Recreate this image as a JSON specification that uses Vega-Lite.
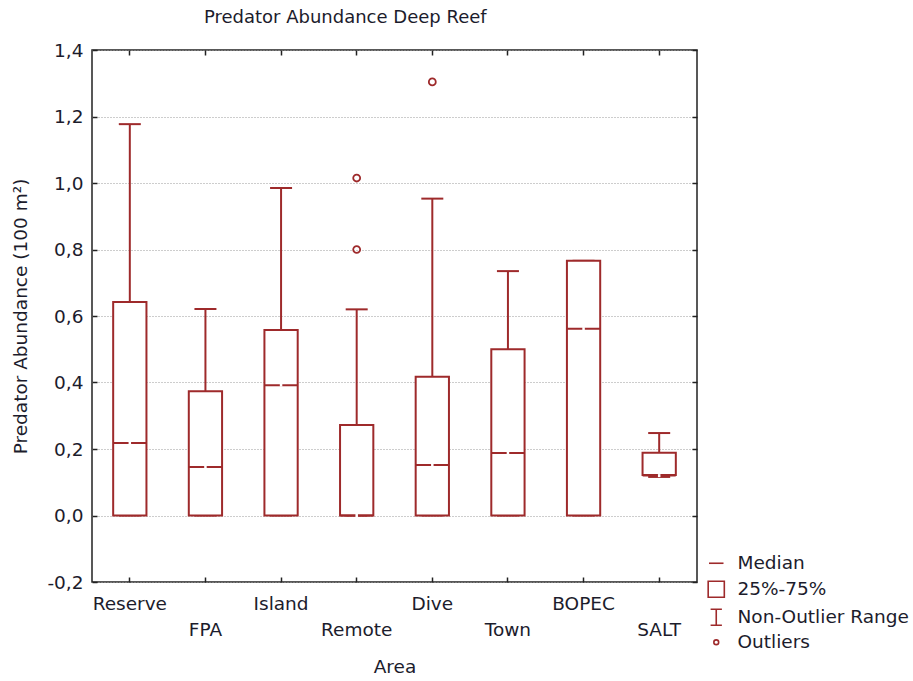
{
  "$schema": "https://vega.github.io/schema/vega-lite/v6.json",
  "width": 605,
  "height": 532,
  "autosize": {"type": "none"},
  "padding": {"left": 92, "top": 50, "right": 216, "bottom": 99},
  "background": "white",
  "config": {
    "font": "DejaVu Sans",
    "view": {"stroke": "#222222", "strokeWidth": 1.5},
    "axis": {
      "labelFont": "DejaVu Sans",
      "titleFont": "DejaVu Sans",
      "labelColor": "#1c1c2c",
      "titleColor": "#1c1c2c",
      "labelFontSize": 18.5,
      "titleFontSize": 18.5,
      "titleFontWeight": "normal",
      "domain": false,
      "tickColor": "#222222",
      "tickWidth": 1.5
    }
  },
  "title": {
    "text": "Predator Abundance Deep Reef",
    "anchor": "start",
    "dx": 192,
    "offset": 14,
    "fontSize": 18,
    "fontWeight": "normal",
    "font": "DejaVu Sans",
    "color": "#1c1c2c"
  },
  "datasets": {
    "boxes": [
      {"area": "Reserve", "min": 0, "q1": 0, "median": 0.218, "q3": 0.642, "max": 1.177},
      {"area": "FPA", "min": 0, "q1": 0, "median": 0.146, "q3": 0.374, "max": 0.621},
      {"area": "Island", "min": 0, "q1": 0, "median": 0.392, "q3": 0.558, "max": 0.985},
      {"area": "Remote", "min": 0, "q1": 0, "median": 0, "q3": 0.272, "max": 0.62},
      {"area": "Dive", "min": 0, "q1": 0, "median": 0.152, "q3": 0.417, "max": 0.953},
      {"area": "Town", "min": 0, "q1": 0, "median": 0.188, "q3": 0.5, "max": 0.735},
      {"area": "BOPEC", "min": 0, "q1": 0, "median": 0.562, "q3": 0.766, "max": 0.766},
      {"area": "SALT", "min": 0.116, "q1": 0.122, "median": 0.12, "q3": 0.189, "max": 0.248}
    ],
    "outliers": [
      {"area": "Remote", "value": 1.015},
      {"area": "Remote", "value": 0.8},
      {"area": "Dive", "value": 1.304}
    ],
    "legend": [
      {"item": "Median", "area": "Reserve", "v": 0},
      {"item": "25%-75%", "area": "Reserve", "v": 0},
      {"item": "Non-Outlier Range", "area": "Reserve", "v": 0},
      {"item": "Outliers", "area": "Reserve", "v": 0}
    ]
  },
  "layer": [
    {
      "data": {"name": "boxes"},
      "mark": {"type": "rule", "color": "#9e2a2b", "strokeWidth": 2},
      "encoding": {
        "x": {
          "field": "area",
          "type": "nominal",
          "sort": null,
          "scale": {"type": "band", "paddingInner": 0, "paddingOuter": 0, "domain": ["Reserve", "FPA", "Island", "Remote", "Dive", "Town", "BOPEC", "SALT"]},
          "axis": {
            "orient": "bottom",
            "title": "Area",
            "labelAngle": 0,
            "labelExpr": "indexof(['FPA','Remote','Town','SALT'], datum.value) >= 0 ? ['', datum.value] : datum.value",
            "labelLineHeight": 26,
            "labelBaseline": "top",
            "tickSize": -5,
            "labelPadding": 17,
            "titlePadding": 19,
            "grid": false
          }
        },
        "y": {
          "field": "q3",
          "type": "quantitative",
          "scale": {"domain": [-0.2, 1.4], "nice": false, "zero": false},
          "axis": {
            "orient": "left",
            "title": "Predator Abundance (100 m²)",
            "values": [-0.2, 0, 0.2, 0.4, 0.6, 0.8, 1.0, 1.2, 1.4],
            "labelExpr": "replace(replace(format(datum.value, '.1f'), '.', ','), '−', '-')",
            "grid": true,
            "gridDash": [1, 2],
            "gridColor": "#9a9a9a",
            "gridWidth": 1,
            "tickSize": -5,
            "labelPadding": 14,
            "titlePadding": 16
          }
        },
        "y2": {"field": "max"}
      }
    },
    {
      "data": {"name": "boxes"},
      "mark": {"type": "rule", "color": "#9e2a2b", "strokeWidth": 2},
      "encoding": {
        "x": {"field": "area", "type": "nominal", "sort": null, "axis": null},
        "y": {"field": "min", "type": "quantitative", "axis": null},
        "y2": {"field": "q1"}
      }
    },
    {
      "data": {"name": "boxes"},
      "mark": {"type": "tick", "color": "#9e2a2b", "size": 22, "thickness": 2, "opacity": 1},
      "encoding": {
        "x": {"field": "area", "type": "nominal", "sort": null, "axis": null},
        "y": {"field": "max", "type": "quantitative", "axis": null}
      }
    },
    {
      "data": {"name": "boxes"},
      "mark": {"type": "tick", "color": "#9e2a2b", "size": 22, "thickness": 2, "opacity": 1},
      "encoding": {
        "x": {"field": "area", "type": "nominal", "sort": null, "axis": null},
        "y": {"field": "min", "type": "quantitative", "axis": null}
      }
    },
    {
      "data": {"name": "boxes"},
      "mark": {"type": "bar", "fill": "white", "stroke": "#9e2a2b", "strokeWidth": 2, "width": {"band": 0.44}},
      "encoding": {
        "x": {"field": "area", "type": "nominal", "sort": null, "axis": null},
        "y": {"field": "q1", "type": "quantitative", "axis": null},
        "y2": {"field": "q3"}
      }
    },
    {
      "data": {"name": "boxes"},
      "mark": {"type": "tick", "color": "#9e2a2b", "size": 33, "thickness": 2, "opacity": 1},
      "encoding": {
        "x": {"field": "area", "type": "nominal", "sort": null, "axis": null},
        "y": {"field": "median", "type": "quantitative", "axis": null}
      }
    },
    {
      "data": {"name": "boxes"},
      "mark": {"type": "tick", "color": "white", "size": 2.5, "thickness": 3, "opacity": 1},
      "encoding": {
        "x": {"field": "area", "type": "nominal", "sort": null, "axis": null},
        "y": {"field": "median", "type": "quantitative", "axis": null}
      }
    },
    {
      "data": {"name": "outliers"},
      "mark": {"type": "point", "shape": "circle", "filled": false, "color": "#9e2a2b", "size": 48, "strokeWidth": 1.8, "opacity": 1},
      "encoding": {
        "x": {"field": "area", "type": "nominal", "sort": null, "axis": null},
        "y": {"field": "value", "type": "quantitative", "axis": null}
      }
    },
    {
      "data": {"name": "legend"},
      "mark": {"type": "point", "opacity": 0, "filled": false},
      "encoding": {
        "x": {
          "field": "area", "type": "nominal", "sort": null,
          "axis": {"orient": "top", "labels": false, "title": null, "tickSize": -5, "grid": false}
        },
        "y": {
          "field": "v", "type": "quantitative",
          "axis": {"orient": "right", "labels": false, "title": null, "tickSize": -5, "grid": false, "values": [-0.2, 0, 0.2, 0.4, 0.6, 0.8, 1.0, 1.2, 1.4]}
        },
        "shape": {
          "field": "item",
          "type": "nominal",
          "scale": {
            "domain": ["Median", "25%-75%", "Non-Outlier Range", "Outliers"],
            "range": ["M-0.9,0H0.9", "M-1,-1H1V1H-1Z", "M-0.7,-1H0.7M0,-1V1M-0.7,1H0.7", "M-0.3,0A0.3,0.3 0 1,0 0.3,0A0.3,0.3 0 1,0 -0.3,0Z"]
          },
          "legend": {
            "orient": "none",
            "legendX": 615,
            "legendY": 504,
            "title": null,
            "labelFont": "DejaVu Sans",
            "labelFontSize": 18.5,
            "labelLimit": 0,
            "labelColor": "#1c1c2c",
            "symbolSize": 260,
            "symbolStrokeColor": "#9e2a2b",
            "symbolFillColor": "white",
            "symbolStrokeWidth": 1.6,
            "symbolOpacity": 1,
            "rowPadding": 4,
            "labelOffset": 12
          }
        }
      }
    }
  ],
  "resolve": {"axis": {"x": "independent", "y": "independent"}}
}
